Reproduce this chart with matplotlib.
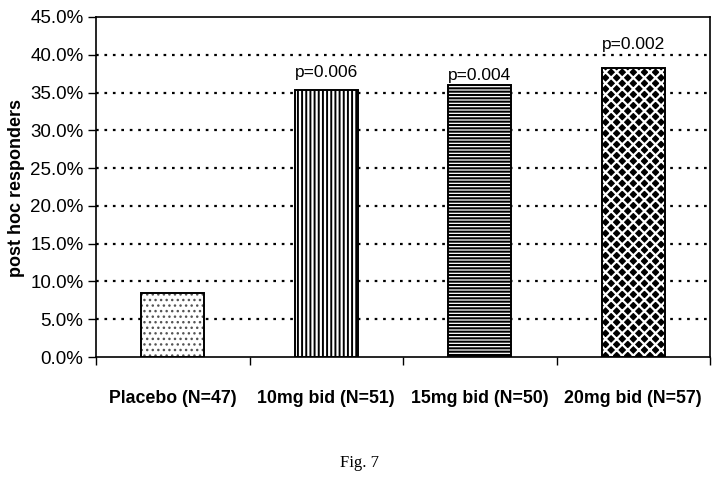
import matplotlib
matplotlib.use("Agg")
import matplotlib.pyplot as plt
from matplotlib.ticker import FuncFormatter, FixedLocator

categories = ["Placebo (N=47)", "10mg bid (N=51)", "15mg bid (N=50)", "20mg bid (N=57)"]
values = [8.5, 35.3, 36.0, 38.3]
p_labels = ["", "p=0.006", "p=0.004", "p=0.002"]
yticks = [0, 5, 10, 15, 20, 25, 30, 35, 40, 45]

# styling (not data)
hatches = ["...", "||||", "-----", "xxx"]
faces = ["white", "white", "white", "black"]
hatch_colors = ["#555555", "black", "black", "white"]
hatch_lws = [1.0, 1.4, 1.5, 1.6]
label_offsets = [0, 1.7, 0.7, 2.4]

plt.rcParams["font.family"] = ["Liberation Sans", "DejaVu Sans"]

fig = plt.figure(figsize=(7.19, 4.84), dpi=100)
ax = fig.add_axes([96/719, 1-357/484, (710-96)/719, (357-17)/484])

x = list(range(len(categories)))
# textured fill
fills = ax.bar(x, values, width=0.41, color=faces, edgecolor=hatch_colors,
               linewidth=0, hatch=hatches, zorder=3)
for b, lw in zip(fills, hatch_lws):
    try:
        b.set_hatch_linewidth(lw)
    except AttributeError:
        pass
# outlines
ax.bar(x, values, width=0.41, fill=False, edgecolor="black", linewidth=1.4, zorder=4)

for xi, v, p, off in zip(x, values, p_labels, label_offsets):
    if p:
        ax.text(xi, v + off, p, ha="center", va="baseline", fontsize=12.5, zorder=5)

ax.set_xlim(-0.5, 3.5)
ax.set_ylim(0, 45)
ax.yaxis.set_major_locator(FixedLocator(yticks))
ax.yaxis.set_major_formatter(FuncFormatter(lambda v, pos: f"{v:.1f}%"))
for yv in yticks[1:-1]:
    ax.axhline(yv, color="black", linestyle=(0, (1.2, 2.6)), linewidth=1.6, zorder=1)

ax.set_xticks(x)
ax.set_xticklabels(categories, fontsize=12.8, fontweight="bold")
ax.tick_params(axis="x", which="major", length=0, pad=24)
ax.set_xticks([-0.5, 0.5, 1.5, 2.5, 3.5], minor=True)
ax.tick_params(axis="x", which="minor", length=6, width=1, direction="out")
ax.tick_params(axis="y", length=6, width=1, direction="out", pad=3, labelsize=13.5)

for s in ax.spines.values():
    s.set_color("black")
    s.set_linewidth(1.2)

ax.set_ylabel("post hoc responders", fontsize=13, fontweight="bold")
ax.yaxis.set_label_coords((25-96)/614, (357-188)/340)

fig.text(359/719, 1-463/484, "Fig. 7", ha="center", va="center", fontsize=12,
         family=["Liberation Serif", "DejaVu Serif"])

fig.savefig("out.png", dpi=100)
